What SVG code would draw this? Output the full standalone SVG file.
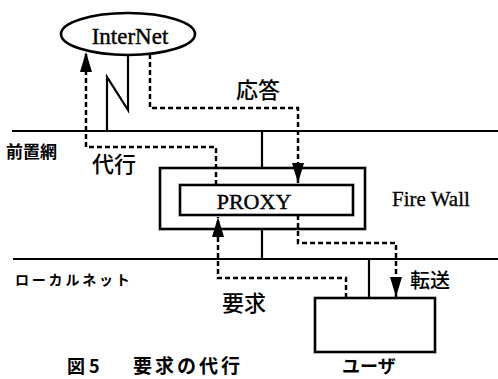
<svg xmlns="http://www.w3.org/2000/svg" width="498" height="379" viewBox="0 0 498 379">
  <style>
    .line { stroke: #000; stroke-width: 2.2; fill: none; }
    .box { stroke: #000; stroke-width: 2.6; fill: #fff; }
    .dash { stroke: #000; stroke-width: 2.5; fill: none; stroke-dasharray: 5 3; }
    .serif { font-family: "Liberation Serif", "Times New Roman", serif; fill: #000; }
    .jp { font-family: "Noto Sans CJK JP", "Noto Sans", sans-serif; fill: #000; font-weight: 500; }
    .bold { font-weight: bold; }
  </style>
  <defs>
    <marker id="arrow" markerUnits="userSpaceOnUse" markerWidth="21" markerHeight="13" refX="20" refY="6.5" orient="auto">
      <path d="M0,0.5 L20,6.5 L0,12.5 z" fill="#000"/>
    </marker>
  </defs>
  <rect width="498" height="379" fill="#fff"/>

  <g id="networks">
    <line class="line" x1="12" y1="131" x2="498" y2="131"/>
    <line class="line" x1="13" y1="259" x2="498" y2="259"/>
    <text class="jp bold" x="6" y="158" font-size="17">前置網</text>
    <text class="jp bold" x="15" y="285" font-size="14" letter-spacing="2.8">ローカルネット</text>
  </g>

  <g id="internet">
    <ellipse class="box" cx="128" cy="34" rx="67" ry="21"/>
    <text class="serif" x="130" y="44" font-size="23" text-anchor="middle" stroke="#000" stroke-width="0.4">InterNet</text>
  </g>

  <g id="firewall">
    <rect class="box" x="160" y="168" width="205" height="61"/>
    <text class="serif" x="392" y="206" font-size="21" stroke="#000" stroke-width="0.3">Fire Wall</text>
  </g>

  <g id="proxy">
    <rect class="box" x="180" y="185" width="173" height="30"/>
    <text class="serif" x="254" y="209" font-size="22" text-anchor="middle" stroke="#000" stroke-width="0.4">PROXY</text>
  </g>

  <g id="user">
    <rect class="box" x="315" y="298" width="120" height="54"/>
    <text class="jp bold" x="342" y="373" font-size="18">ユーザ</text>
  </g>

  <g id="connectors">
    <polyline class="line" points="107,131 107,77 128,110 128,55"/>
    <line class="line" x1="262" y1="131" x2="262" y2="168"/>
    <line class="line" x1="262" y1="229" x2="262" y2="259"/>
    <line class="line" x1="369" y1="259" x2="369" y2="298"/>

    <polyline class="dash" points="216,185 216,147 86,147 86,52" marker-end="url(#arrow)"/>
    <polyline class="dash" points="150,54 150,108 298,108 298,183" marker-end="url(#arrow)"/>
    <polyline class="dash" points="346,298 346,278 218,278 218,217" marker-end="url(#arrow)"/>
    <polyline class="dash" points="298,215 298,243 396,243 396,297" marker-end="url(#arrow)"/>
  </g>

  <g id="labels">
    <text class="jp" x="236" y="98" font-size="22">応答</text>
    <text class="jp" x="92" y="172" font-size="22">代行</text>
    <text class="jp" x="222" y="311" font-size="22">要求</text>
    <text class="jp" x="410" y="288" font-size="20">転送</text>
    <text class="jp bold" x="67" y="373" font-size="18">図 5<tspan x="133" letter-spacing="3" font-size="19">要求の代行</tspan></text>
  </g>
</svg>
